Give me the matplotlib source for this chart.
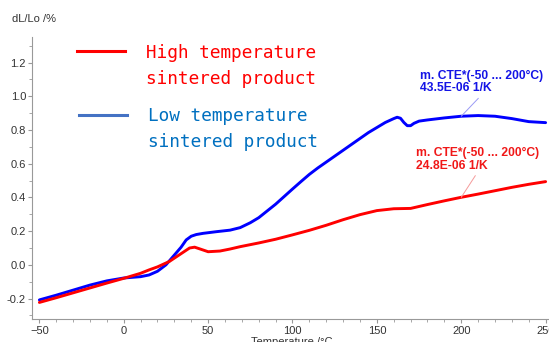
import numpy as np
import matplotlib.pyplot as plt
from matplotlib.lines import Line2D
from matplotlib.ticker import MultipleLocator

# (temperature in degC, dL/Lo in %)
temp_low = [-50, -40, -30, -20, -10, 0, 10, 15, 20, 25, 28, 31, 34, 37, 40, 43, 47,
            55, 63, 69, 75, 80, 85, 90, 95, 100, 105, 110, 115, 120, 125, 130, 135,
            140, 145, 150, 155, 160, 162, 164, 166, 168, 170, 172, 175, 180, 190, 200,
            210, 220, 230, 240, 250]
dl_low = [-0.208, -0.18, -0.15, -0.12, -0.095, -0.078, -0.07, -0.06, -0.038, 0.0,
          0.035, 0.07, 0.105, 0.148, 0.17, 0.18, 0.187, 0.197, 0.206, 0.221, 0.25,
          0.28, 0.32, 0.36, 0.405, 0.45, 0.494, 0.537, 0.575, 0.61, 0.645, 0.68,
          0.715, 0.75, 0.785, 0.815, 0.845, 0.868, 0.876, 0.87, 0.845, 0.826, 0.826,
          0.84, 0.853, 0.86, 0.872, 0.882, 0.886, 0.882, 0.868, 0.85, 0.844]

temp_high = [-50, -40, -30, -20, -10, 0, 10, 15, 20, 27, 33, 39, 42, 45, 50, 57, 63,
             69, 80, 90, 100, 110, 120, 130, 140, 150, 160, 170, 180, 190, 200, 210,
             220, 230, 240, 250]
dl_high = [-0.223, -0.195, -0.166, -0.137, -0.108, -0.08, -0.05, -0.03, -0.012, 0.02,
           0.06, 0.1, 0.105, 0.095, 0.078, 0.082, 0.094, 0.108, 0.13, 0.152, 0.178,
           0.205, 0.235, 0.268, 0.298, 0.322, 0.333, 0.335, 0.358, 0.38, 0.401, 0.42,
           0.44, 0.46, 0.478, 0.494]

cte_low = "m. CTE*(-50 ... 200°C)\n43.5E-06 1/K"
cte_high = "m. CTE*(-50 ... 200°C)\n24.8E-06 1/K"
cte_at = 200

plt.rcParams['font.family'] = ['Liberation Sans', 'DejaVu Sans']

fig = plt.figure(figsize=(5.49, 3.42), dpi=100)
ax = fig.add_axes([0.0588, 0.0664, 0.9412, 0.8263])

ax.plot(temp_low, dl_low, color='#0000ff', lw=2.1, solid_capstyle='round')
ax.plot(temp_high, dl_high, color='#ff0000', lw=2.1, solid_capstyle='round')

ax.set_xlim(-54.2, 252)
ax.set_ylim(-0.323, 1.354)
ax.xaxis.set_major_locator(MultipleLocator(50))
ax.xaxis.set_minor_locator(MultipleLocator(10))
ax.yaxis.set_major_locator(MultipleLocator(0.2))
ax.yaxis.set_minor_locator(MultipleLocator(0.1))
ax.yaxis.set_major_formatter(plt.FuncFormatter(lambda v, p: '%.1f' % v))

for s in ['top', 'right']:
    ax.spines[s].set_visible(False)
for s in ['left', 'bottom']:
    ax.spines[s].set_color('#999999')
    ax.spines[s].set_linewidth(0.8)
ax.tick_params(which='major', length=3, width=0.8, color='#999999',
               labelsize=8, labelcolor='#333333', pad=1.5)
ax.tick_params(which='minor', length=2, width=0.6, color='#999999')

# CTE annotations
y_low = np.interp(cte_at, temp_low, dl_low)
y_high = np.interp(cte_at, temp_high, dl_high)
ax.annotate(cte_low, xy=(cte_at, y_low), xytext=(175.8, 1.011),
            ha='left', va='bottom', fontsize=8.7, fontweight='bold',
            color='#1414e6', linespacing=1.1,
            arrowprops=dict(arrowstyle='-', color='#9a9af5', lw=0.7,
                            relpos=(0.5, 0), shrinkA=1, shrinkB=0))
ax.annotate(cte_high, xy=(cte_at, y_high), xytext=(173.4, 0.553),
            ha='left', va='bottom', fontsize=8.7, fontweight='bold',
            color='#f01818', linespacing=1.1,
            arrowprops=dict(arrowstyle='-', color='#f59a9a', lw=0.7,
                            relpos=(0.5, 0), shrinkA=1, shrinkB=0))

# legend drawn by hand
W, H = 549.0, 342.0
fig.add_artist(Line2D([77 / W, 125 / W], [1 - 51 / H, 1 - 51 / H],
                      color='#ff0000', lw=2.2))
fig.add_artist(Line2D([79 / W, 127 / W], [1 - 115 / H, 1 - 115 / H],
                      color='#4472c4', lw=2.2))
fig.text(145.7 / W, 1 - 53 / H, 'High temperature', family='DejaVu Sans Mono',
         fontsize=12.8, color='#ff0000', va='center', ha='left')
fig.text(145.7 / W, 1 - 79 / H, 'sintered product', family='DejaVu Sans Mono',
         fontsize=12.8, color='#ff0000', va='center', ha='left')
fig.text(147.7 / W, 1 - 115.7 / H, 'Low temperature', family='DejaVu Sans Mono',
         fontsize=12.8, color='#0070c0', va='center', ha='left')
fig.text(147.7 / W, 1 - 141.7 / H, 'sintered product', family='DejaVu Sans Mono',
         fontsize=12.8, color='#0070c0', va='center', ha='left')

fig.text(12 / W, 1 - 19.3 / H, 'dL/Lo /%', fontsize=8, color='#333333',
         va='center', ha='left')
fig.text(292 / W, 1 - 345 / H, 'Temperature /°C', fontsize=8, color='#333333',
         va='baseline', ha='center')

fig.savefig('out.png', dpi=100)
